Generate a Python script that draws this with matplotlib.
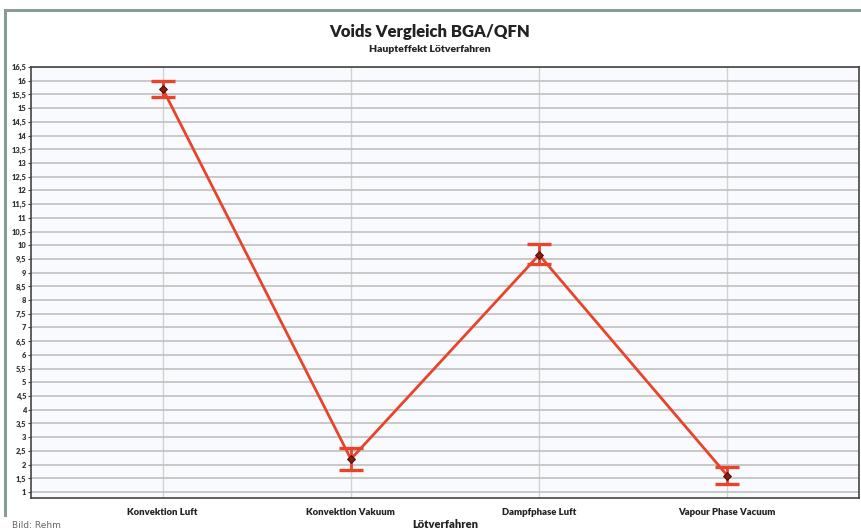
import numpy as np
import matplotlib
matplotlib.use("Agg")
import matplotlib.pyplot as plt
from matplotlib.lines import Line2D

# Data
categories = ["Konvektion Luft", "Konvektion Vakuum", "Dampfphase Luft", "Vapour Phase Vacuum"]
means = [15.7, 2.2, 9.65, 1.6]
err_low = [0.3, 0.4, 0.35, 0.3]
err_high = [0.3, 0.4, 0.4, 0.3]
y_ticks = np.arange(1, 16.51, 0.5)

RED = "#e8442c"
plt.rcParams["font.family"] = ["Lato", "DejaVu Sans"]

fig = plt.figure(figsize=(8.61, 5.32), dpi=100)
ax = fig.add_axes([31 / 861, 1 - 498 / 532, (859 - 31) / 861, (498 - 67) / 532])

x = np.arange(len(categories))
ax.set_facecolor("#f8fafd")
ax.errorbar(x, means, yerr=[err_low, err_high], color=RED, lw=2.0,
            capsize=8.6, capthick=2.4, elinewidth=2.0, zorder=3, fmt="-")
ax.plot(x, means, ls="none", marker="D", markersize=4, markerfacecolor="#8a1c12",
        markeredgecolor="#3a0a05", markeredgewidth=0.6, zorder=4)

ax.set_xlim(-0.7, 3.7)
ax.set_ylim(0.78, 16.5)
ax.set_yticks(y_ticks)
ax.set_yticklabels([f"{v:g}".replace(".", ",") for v in y_ticks])
ax.set_xticks(x)
ax.set_xticklabels(categories, fontsize=6.8, fontweight="heavy", color="#222222")
ax.tick_params(axis="y", labelsize=5.4, length=2.5, pad=1, labelcolor="#333333", colors="#444444")
ax.tick_params(axis="x", length=0, pad=7)
for lbl in ax.get_yticklabels():
    lbl.set_fontweight("heavy")

ax.grid(True, axis="y", color="#c4c4c4", lw=1.3)
ax.grid(True, axis="x", color="#d2d2d2", lw=1.0)
ax.set_axisbelow(True)
for s in ax.spines.values():
    s.set_color("#444444")
    s.set_linewidth(1.2)

fig.text(430 / 861, 1 - 32 / 532, "Voids Vergleich BGA/QFN", ha="center", va="center",
         fontsize=12, fontweight="heavy", color="#222222")
fig.text(430 / 861, 1 - 50 / 532, "Haupteffekt Lötverfahren", ha="center", va="center",
         fontsize=7.5, fontweight="heavy", color="#222222")
fig.text(445 / 861, 1 - 524 / 532, "Lötverfahren", ha="center", va="center",
         fontsize=8, fontweight="heavy", color="#222222")
fig.text(12 / 861, 1 - 525 / 532, "Bild: Rehm", ha="left", va="center",
         fontsize=6.5, color="#666666", family=["Liberation Sans Narrow", "DejaVu Sans"])

# frame lines
fig.add_artist(Line2D([5 / 861, 5 / 861], [1 - 10 / 532, 1 - 515 / 532], color="#8a9b92", lw=2.2))
fig.add_artist(Line2D([5 / 861, 1.0], [1 - 10 / 532, 1 - 10 / 532], color="#8a9b92", lw=2.2))

fig.savefig("out.png", dpi=100)
